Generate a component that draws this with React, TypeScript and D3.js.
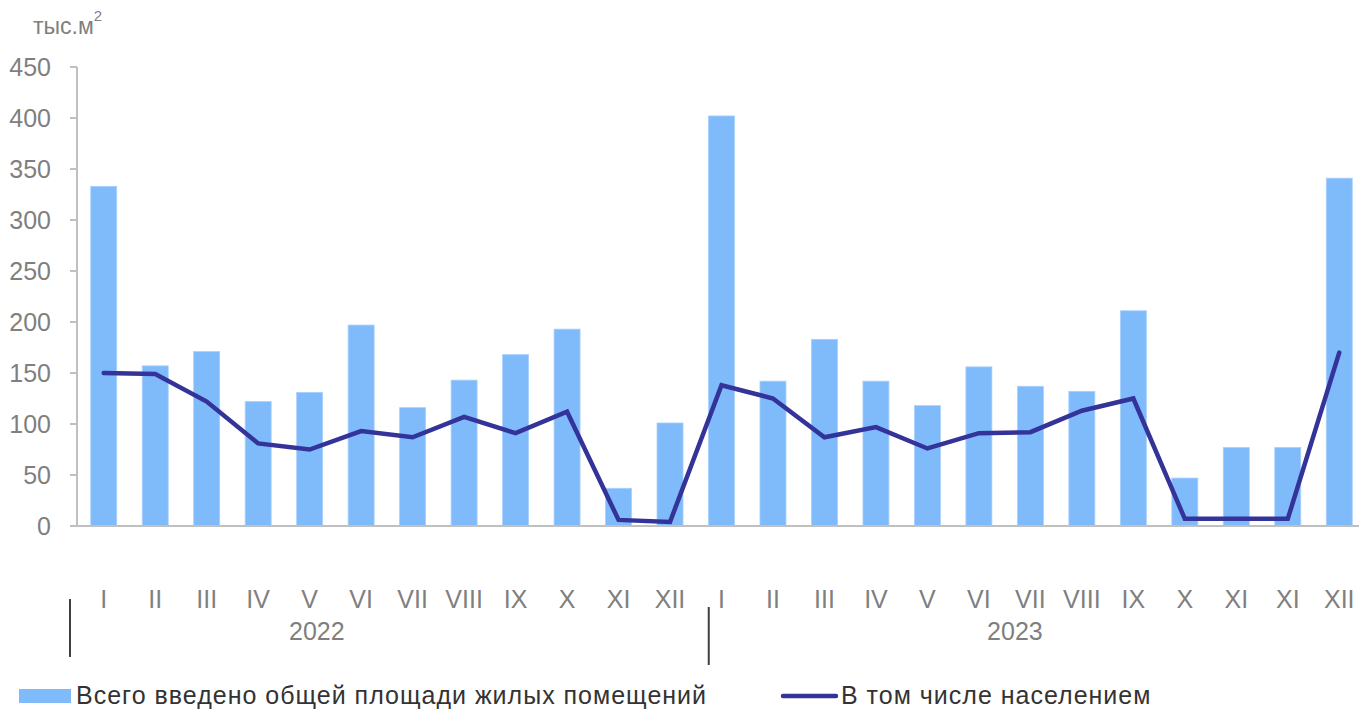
import React from 'react'
import * as d3 from 'd3'

// month labels as printed on the source axis (2023 repeats "XI")
const categories = [
  'I', 'II', 'III', 'IV', 'V', 'VI', 'VII', 'VIII', 'IX', 'X', 'XI', 'XII',
  'I', 'II', 'III', 'IV', 'V', 'VI', 'VII', 'VIII', 'IX', 'X', 'XI', 'XI', 'XII'
]

const totalArea = [
  333, 157, 171, 122, 131, 197, 116, 143, 168, 193, 37, 101,
  402, 142, 183, 142, 118, 156, 137, 132, 211, 47, 77, 77, 341
]

const byPopulation = [
  150, 149, 122, 81, 75, 93, 87, 107, 91, 112, 6, 4,
  138, 125, 87, 97, 76, 91, 92, 113, 125, 7, 7, 7, 170
]

const years = ['2022', '2023']
const yTicks = [0, 50, 100, 150, 200, 250, 300, 350, 400, 450]

const seriesNames = ['Всего введено общей площади жилых помещений', 'В том числе населением']

const width = 1359
const height = 709
const font = '"Liberation Sans", Arial, sans-serif'
const barColor = '#7fbafb'
const lineColor = '#333399'
const axisColor = '#c0c0c0'
const labelColor = '#7f7f7f'

export default function App() {
  const idx = d3.range(categories.length)
  const x = d3.scaleBand<number>().domain(idx).range([78, 1365]).paddingInner(0)
  const y = d3.scaleLinear().domain([0, 450]).range([526, 67])
  const step = x.step()
  const barW = step * 0.505
  const cx = (i: number) => (x(i) as number) + step / 2

  const line = d3
    .line<number>()
    .x((_, i) => cx(i))
    .y(d => y(d))

  // year label offsets (in bands) and separator positions, as in the source
  const yearPos = [4.64, 18.2]
  const sepX = [x(0)! - 8, x(12)! + 13]
  const sepY = [
    [599, 657],
    [607, 665]
  ]

  return (
    <svg
      width={width}
      height={height}
      style={{ position: 'absolute', left: 0, top: 0, display: 'block' }}
      fontFamily={font}>
      {/* unit */}
      <text x={33} y={34} fontSize={23} fill={labelColor}>
        тыс.м
        <tspan dy={-13} fontSize={15}>2</tspan>
      </text>

      {/* y axis */}
      <line x1={77} x2={77} y1={y(450)} y2={y(0)} stroke={axisColor} strokeWidth={2} />
      {yTicks.map(t => (
        <g key={t}>
          <line x1={70} x2={77} y1={y(t)} y2={y(t)} stroke={axisColor} strokeWidth={2} />
          <text x={51} y={y(t)} dy="0.36em" textAnchor="end" fontSize={25} fill={labelColor}>
            {t}
          </text>
        </g>
      ))}

      {/* bars */}
      {totalArea.map((v, i) => (
        <rect
          key={i}
          x={cx(i) - barW / 2}
          y={y(v)}
          width={barW}
          height={y(0) - y(v)}
          fill={barColor}
          stroke="#a8d0fd"
          strokeWidth={0.8}
        />
      ))}

      {/* x axis */}
      <line x1={70} x2={width} y1={y(0)} y2={y(0)} stroke={axisColor} strokeWidth={2} />

      {/* line */}
      <path
        d={line(byPopulation) || ''}
        fill="none"
        stroke={lineColor}
        strokeWidth={4.5}
        strokeLinejoin="miter"
        strokeLinecap="round"
      />

      {/* category labels */}
      {categories.map((c, i) => (
        <text key={i} x={cx(i)} y={608} textAnchor="middle" fontSize={25} fill={labelColor}>
          {c}
        </text>
      ))}

      {/* year groups */}
      {years.map((yr, k) => (
        <g key={yr}>
          <line
            x1={sepX[k]}
            x2={sepX[k]}
            y1={sepY[k][0]}
            y2={sepY[k][1]}
            stroke="#404040"
            strokeWidth={2}
          />
          <text
            x={x(0)! + step * yearPos[k]}
            y={640}
            textAnchor="middle"
            fontSize={25}
            fill={labelColor}>
            {yr}
          </text>
        </g>
      ))}

      {/* legend */}
      <rect x={19} y={689} width={52} height={14} fill={barColor} />
      <text x={76} y={704} fontSize={25} letterSpacing={1} fill="#333333">
        {seriesNames[0]}
      </text>
      <line x1={783} x2={836} y1={696} y2={696} stroke={lineColor} strokeWidth={4.5} strokeLinecap="round" />
      <text x={841} y={704} fontSize={25} letterSpacing={1} fill="#333333">
        {seriesNames[1]}
      </text>
    </svg>
  )
}
